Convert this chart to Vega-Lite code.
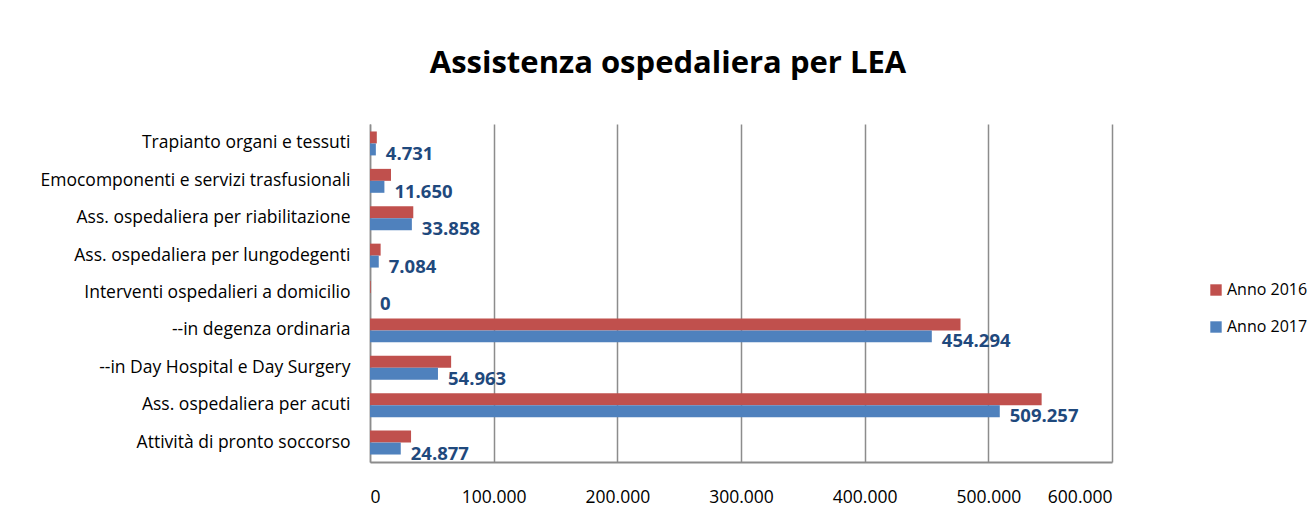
{
  "$schema": "https://vega.github.io/schema/vega-lite/v6.json",
  "width": 742,
  "height": 338,
  "autosize": {"type": "none"},
  "padding": {"left": 370, "top": 124, "right": 201, "bottom": 63},
  "background": "white",
  "config": {
    "locale": {"number": {"decimal": ",", "thousands": ".", "grouping": [3], "currency": ["€", ""]}},
    "view": {"stroke": null},
    "font": "Open Sans"
  },
  "title": {
    "text": "Assistenza ospedaliera per LEA",
    "font": "Open Sans",
    "fontSize": 31,
    "fontWeight": "bold",
    "color": "#000000",
    "anchor": "middle",
    "frame": "group",
    "dx": -73,
    "offset": 44
  },
  "data": {
    "values": [
      {"categoria": "Trapianto organi e tessuti", "serie": "Anno 2016", "valore": 5500},
      {"categoria": "Trapianto organi e tessuti", "serie": "Anno 2017", "valore": 4731},
      {"categoria": "Emocomponenti e servizi trasfusionali", "serie": "Anno 2016", "valore": 17000},
      {"categoria": "Emocomponenti e servizi trasfusionali", "serie": "Anno 2017", "valore": 11650},
      {"categoria": "Ass. ospedaliera per riabilitazione", "serie": "Anno 2016", "valore": 35000},
      {"categoria": "Ass. ospedaliera per riabilitazione", "serie": "Anno 2017", "valore": 33858},
      {"categoria": "Ass. ospedaliera per lungodegenti", "serie": "Anno 2016", "valore": 8600},
      {"categoria": "Ass. ospedaliera per lungodegenti", "serie": "Anno 2017", "valore": 7084},
      {"categoria": "Interventi ospedalieri a domicilio", "serie": "Anno 2016", "valore": 600},
      {"categoria": "Interventi ospedalieri a domicilio", "serie": "Anno 2017", "valore": 0},
      {"categoria": "--in degenza ordinaria", "serie": "Anno 2016", "valore": 477500},
      {"categoria": "--in degenza ordinaria", "serie": "Anno 2017", "valore": 454294},
      {"categoria": "--in Day Hospital e Day Surgery", "serie": "Anno 2016", "valore": 65600},
      {"categoria": "--in Day Hospital e Day Surgery", "serie": "Anno 2017", "valore": 54963},
      {"categoria": "Ass. ospedaliera per acuti", "serie": "Anno 2016", "valore": 543100},
      {"categoria": "Ass. ospedaliera per acuti", "serie": "Anno 2017", "valore": 509257},
      {"categoria": "Attività di pronto soccorso", "serie": "Anno 2016", "valore": 33200},
      {"categoria": "Attività di pronto soccorso", "serie": "Anno 2017", "valore": 24877}
    ]
  },
  "encoding": {
    "y": {
      "field": "categoria",
      "type": "nominal",
      "sort": null,
      "title": null,
      "scale": {"paddingInner": 0.36, "paddingOuter": 0.2},
      "axis": {
        "labelFont": "Open Sans",
        "labelFontSize": 17.5,
        "labelColor": "#000000",
        "labelPadding": 20,
        "ticks": false,
        "domainColor": "#8c8c8c",
        "domainWidth": 1.5,
        "labelLimit": 400
      }
    },
    "x": {
      "field": "valore",
      "type": "quantitative",
      "title": null,
      "scale": {"domain": [0, 600000], "nice": false},
      "axis": {
        "values": [0, 100000, 200000, 300000, 400000, 500000, 600000],
        "format": ",.0f",
        "labelFont": "Open Sans",
        "labelFontSize": 17.5,
        "labelColor": "#000000",
        "labelPadding": 26,
        "ticks": false,
        "domainColor": "#8c8c8c",
        "domainWidth": 2,
        "grid": true,
        "gridColor": "#8c8c8c",
        "gridWidth": 1.5
      }
    },
    "yOffset": {"field": "serie", "type": "nominal", "scale": {"domain": ["Anno 2016", "Anno 2017"]}}
  },
  "layer": [
    {
      "mark": {"type": "bar"},
      "encoding": {
        "color": {
          "field": "serie",
          "type": "nominal",
          "scale": {"domain": ["Anno 2016", "Anno 2017"], "range": ["#C0504D", "#4F81BD"]},
          "legend": {
            "title": null,
            "orient": "none",
            "legendX": 838,
            "legendY": 158,
            "symbolType": "square",
            "symbolSize": 130,
            "symbolStrokeWidth": 0,
            "labelFont": "Open Sans",
            "labelFontSize": 16,
            "labelColor": "#000000",
            "rowPadding": 21,
            "labelOffset": 3
          }
        }
      }
    },
    {
      "transform": [{"filter": "datum.serie === 'Anno 2017'"}],
      "mark": {
        "type": "text",
        "align": "left",
        "baseline": "middle",
        "dx": 10,
        "dy": 5,
        "font": "Open Sans",
        "fontSize": 18.5,
        "fontWeight": "bold",
        "color": "#1F497D"
      },
      "encoding": {
        "text": {"field": "valore", "type": "quantitative", "format": ",.0f"}
      }
    }
  ]
}
